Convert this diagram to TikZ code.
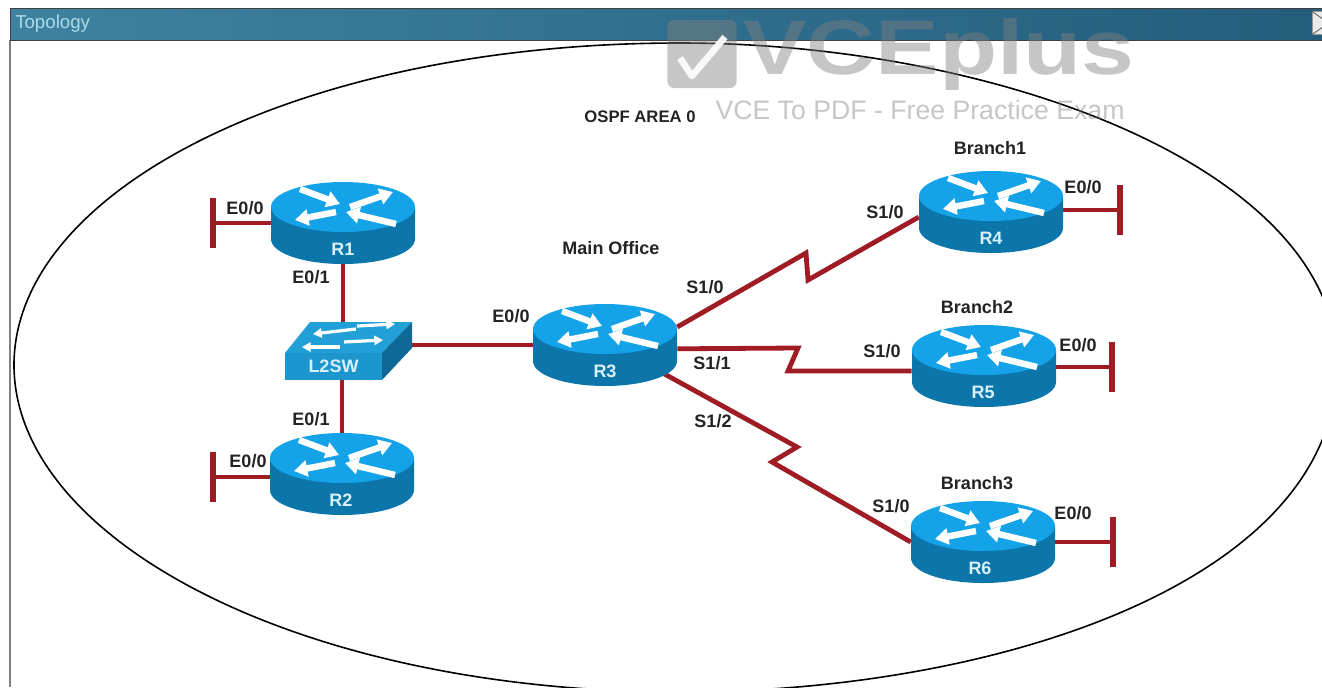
\documentclass[tikz,border=0pt]{standalone}
\usepackage{xcolor}
\usepackage{fontspec}
\setmainfont{Liberation Sans}
\usetikzlibrary{arrows.meta,backgrounds}
\definecolor{router-top}{RGB}{20, 162, 232}
\definecolor{router-side}{RGB}{12, 118, 170}
\definecolor{switch-top}{RGB}{32, 160, 215}
\definecolor{switch-front}{RGB}{28, 150, 205}
\definecolor{switch-side}{RGB}{14, 105, 150}
\definecolor{link-color}{RGB}{160, 28, 36}
\definecolor{bar-left}{RGB}{62, 130, 160}
\definecolor{bar-right}{RGB}{36, 92, 124}
\definecolor{label-color}{RGB}{35, 35, 35}
\definecolor{title-color}{RGB}{170, 220, 232}
\definecolor{device-text}{RGB}{215, 240, 250}

\begin{document}
\begin{tikzpicture}[
    x=0.75pt, y=-0.75pt,
    routerbox/.style={minimum width=108pt,minimum height=61.5pt,inner sep=0pt},
    routertext/.style={font=\fontsize{13.5}{15}\selectfont\bfseries,text=device-text,inner sep=0pt},
    switchbox/.style={fill=switch-front,minimum width=72.75pt,minimum height=20.25pt,inner sep=0pt,
        font=\fontsize{13.5}{15}\selectfont\bfseries,text=device-text},
    flowarrow/.style={white,line width=4.8pt,-{Triangle[length=10pt,width=12pt]}},
    swarrow/.style={white,line width=2.4pt,-{Triangle[length=6.5pt,width=7pt]}},
    link/.style={link-color,line width=3.6pt,line join=miter},
    lanbar/.style={fill=link-color,minimum width=3.8pt,minimum height=38pt,inner sep=0pt},
    port/.style={font=\fontsize{13.5}{15}\selectfont\bfseries,text=label-color,inner sep=0pt},
    sitename/.style={font=\fontsize{13.5}{15}\selectfont\bfseries,text=label-color,inner sep=0pt}
]
\useasboundingbox (0,0) rectangle (1322,687);

% routers
\foreach \name/\xx/\yy/\tx in {R1/343/223/343,R2/342/474/341,R3/605/345/605,R4/991/212/991,R5/984/366/983,R6/983/542/980}{
    \begin{scope}[shift={(\xx,\yy)}]
    \fill[router-side] (-72,-16) -- (-72,16) .. controls (-72,30) and (-40,41) .. (0,41)
        .. controls (40,41) and (72,30) .. (72,16) -- (72,-16) -- cycle;
    \fill[router-top] (0,-16) circle [x radius=72,y radius=25];
    \draw[flowarrow] (-43,-34) -- (-3,-19);
    \draw[flowarrow] (7,-16) -- (50,-31);
    \draw[flowarrow] (-7,-11) -- (-48,-3);
    \draw[flowarrow] (53,1) -- (3,-11);
    \end{scope}
    \node[routerbox] (\name) at (\xx,\yy) {};
    \node[routertext] (\name text) at (\tx,\yy+26) {\name};
}

% switch
\fill[switch-top] (310,322) -- (412,322) -- (382,353) -- (285,353) -- cycle;
\fill[switch-side] (382,353) -- (412,322) -- (412,348) -- (382,380) -- cycle;
\node[switchbox] (L2SW) at (333.5,366.5) {L2SW};
\draw[swarrow] (356,329) -- (313,334);
\draw[swarrow] (357,326) -- (395,324);
\draw[swarrow] (340,347) -- (302,347);
\draw[swarrow] (344,342) -- (383,340);

% lan stubs
\foreach \name/\lan/\side/\xx/\yy in {R1/lanA/west/213/223,R2/lanB/west/213/477,R4/lanC/east/1120/210,R5/lanD/east/1112/367,R6/lanE/east/1113/542}{
    \node[lanbar] (\lan) at (\xx,\yy) {};
    \begin{scope}[on background layer]
    \draw[link] (\name.center |- \lan) -- (\lan);
    \end{scope}
}

% links and area outline
\begin{scope}[on background layer]
\draw[link] (R1.south) -- (R1.south |- L2SW.north);
\draw[link] (R2.north) -- (R2.north |- L2SW.south);
\draw[link] (R3.west) -- (R3.west -| L2SW.east);
\draw[link] (R3.14) -- (806,253) -- (808,280) -- (R4.184);
\draw[link] (R3.-3) -- (798,348) -- (788,371) -- (R5.184);
\draw[link] ([shift={(45,21)}]R3.center) -- (797,447) -- (772,462) -- (R6.west);
\clip (0,0) rectangle (1322,687);
\draw[black,line width=1.2pt] (14,365) .. controls (14,190) and (300,43) .. (680,43)
    .. controls (1000,43) and (1337,170) .. (1337,365)
    .. controls (1337,580) and (1000,692) .. (680,692)
    .. controls (300,692) and (14,540) .. (14,365) -- cycle;
\end{scope}

% window frame
\draw[gray,line width=1.5pt] (10,40) -- (10,687);
\node[left color=bar-left,right color=bar-right,draw=black!75,line width=1pt,minimum width=991.5pt,minimum height=24pt,inner sep=0pt,anchor=north west] (titlebar) at (10,8) {};
\node[font=\fontsize{14}{16}\selectfont,text=title-color,inner sep=0pt,anchor=west] (title) at (15,24) {Topology};
\node[fill=black!8,draw=black!40,minimum width=12pt,minimum height=17pt,inner sep=0pt,anchor=west] (closebox) at (1312,23) {};
\draw[black!60,line width=0.7pt] (closebox.north west) -- (closebox.east) -- (closebox.south west);

% labels
\node[port] (p1) at (245,208) {E0/0};
\node[port] (p2) at (311,277) {E0/1};
\node[port] (p3) at (311,419) {E0/1};
\node[port] (p4) at (248,461) {E0/0};
\node[port] (p5) at (511,316) {E0/0};
\node[port] (p6) at (705,287) {S1/0};
\node[port] (p7) at (712,363) {S1/1};
\node[port] (p8) at (713,421) {S1/2};
\node[port] (p9) at (885,212) {S1/0};
\node[port] (p10) at (882,351) {S1/0};
\node[port] (p11) at (891,506) {S1/0};
\node[port] (p12) at (1083,187) {E0/0};
\node[port] (p13) at (1078,345) {E0/0};
\node[port] (p14) at (1073,513) {E0/0};
\node[sitename] (main) at (611,248) {Main Office};
\node[sitename] (branch1) at (990,148) {Branch1};
\node[sitename] (branch2) at (977,307) {Branch2};
\node[sitename] (branch3) at (977,483) {Branch3};
\node[sitename,font=\fontsize{12.5}{14}\selectfont\bfseries] (area) at (640,117) {OSPF AREA 0};

% watermark
\node[fill=gray,opacity=0.45,rounded corners=5pt,minimum width=52pt,minimum height=51pt,inner sep=0pt] (checkbox) at (702,54) {};
\draw[white,opacity=0.9,line width=5pt,line join=round] (680,58) -- (692,76) -- (725,37);
\node[font=\fontsize{58}{60}\selectfont\bfseries,text=gray,text opacity=0.45,inner sep=0pt,xscale=1.23,transform shape] (wmark) at (939,54) {VCEplus};
\node[font=\fontsize{20}{22}\selectfont,text=gray,text opacity=0.45,inner sep=0pt] (wmarksub) at (920,110) {VCE To PDF - Free Practice Exam};
\end{tikzpicture}
\end{document}
